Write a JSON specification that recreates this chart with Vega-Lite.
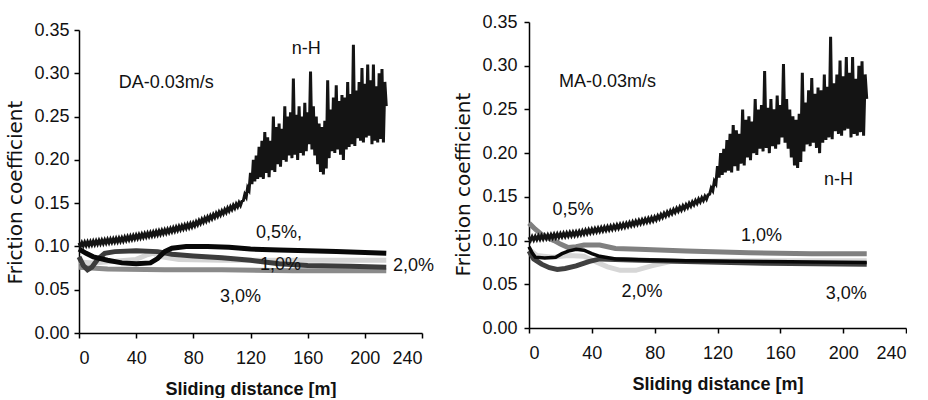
{
  "$schema": "https://vega.github.io/schema/vega-lite/v6.json",
  "padding": {"left": 5, "top": 13, "right": 0, "bottom": 0},
  "background": "white",
  "config": {
    "view": {"stroke": null},
    "font": "Liberation Sans",
    "axis": {"grid": false, "domainColor": "#000", "tickColor": "#000", "labelColor": "#111", "titleColor": "#111", "labelFontSize": 18, "titleFontSize": 18, "labelFont": "Liberation Sans", "tickSize": 5, "domainWidth": 1.5, "tickWidth": 1.5},
    "text": {"font": "Liberation Sans", "fontSize": 18, "color": "#111"}
  },
  "datasets": {
    "nh": [
      {"d":0,"f":0.1040},{"d":1,"f":0.1002},{"d":2,"f":0.1044},{"d":3,"f":0.1006},{"d":4,"f":0.1048},{"d":5,"f":0.1010},{"d":6,"f":0.1052},{"d":7,"f":0.1014},{"d":8,"f":0.1056},{"d":9,"f":0.1018},
      {"d":10,"f":0.1060},{"d":11,"f":0.1022},{"d":12,"f":0.1064},{"d":13,"f":0.1026},{"d":14,"f":0.1068},{"d":15,"f":0.1030},{"d":16,"f":0.1072},{"d":17,"f":0.1034},{"d":18,"f":0.1076},{"d":19,"f":0.1038},
      {"d":20,"f":0.1080},{"d":21,"f":0.1042},{"d":22,"f":0.1084},{"d":23,"f":0.1046},{"d":24,"f":0.1088},{"d":25,"f":0.1050},{"d":26,"f":0.1092},{"d":27,"f":0.1054},{"d":28,"f":0.1096},{"d":29,"f":0.1058},
      {"d":30,"f":0.1100},{"d":31,"f":0.1063},{"d":32,"f":0.1106},{"d":33,"f":0.1069},{"d":34,"f":0.1112},{"d":35,"f":0.1075},{"d":36,"f":0.1118},{"d":37,"f":0.1081},{"d":38,"f":0.1124},{"d":39,"f":0.1087},
      {"d":40,"f":0.1130},{"d":41,"f":0.1093},{"d":42,"f":0.1136},{"d":43,"f":0.1099},{"d":44,"f":0.1142},{"d":45,"f":0.1105},{"d":46,"f":0.1148},{"d":47,"f":0.1111},{"d":48,"f":0.1154},{"d":49,"f":0.1117},
      {"d":50,"f":0.1160},{"d":51,"f":0.1123},{"d":52,"f":0.1166},{"d":53,"f":0.1129},{"d":54,"f":0.1172},{"d":55,"f":0.1135},{"d":56,"f":0.1178},{"d":57,"f":0.1141},{"d":58,"f":0.1184},{"d":59,"f":0.1147},
      {"d":60,"f":0.1190},{"d":61,"f":0.1154},{"d":62,"f":0.1198},{"d":63,"f":0.1162},{"d":64,"f":0.1206},{"d":65,"f":0.1170},{"d":66,"f":0.1214},{"d":67,"f":0.1178},{"d":68,"f":0.1222},{"d":69,"f":0.1186},
      {"d":70,"f":0.1230},{"d":71,"f":0.1194},{"d":72,"f":0.1238},{"d":73,"f":0.1202},{"d":74,"f":0.1246},{"d":75,"f":0.1210},{"d":76,"f":0.1254},{"d":77,"f":0.1218},{"d":78,"f":0.1262},{"d":79,"f":0.1226},
      {"d":80,"f":0.1270},{"d":81,"f":0.1237},{"d":82,"f":0.1284},{"d":83,"f":0.1251},{"d":84,"f":0.1298},{"d":85,"f":0.1265},{"d":86,"f":0.1312},{"d":87,"f":0.1279},{"d":88,"f":0.1326},{"d":89,"f":0.1293},
      {"d":90,"f":0.1340},{"d":91,"f":0.1307},{"d":92,"f":0.1354},{"d":93,"f":0.1321},{"d":94,"f":0.1368},{"d":95,"f":0.1335},{"d":96,"f":0.1382},{"d":97,"f":0.1349},{"d":98,"f":0.1396},{"d":99,"f":0.1363},
      {"d":100,"f":0.1410},{"d":101,"f":0.1378},{"d":102,"f":0.1426},{"d":103,"f":0.1394},{"d":104,"f":0.1442},{"d":105,"f":0.1410},{"d":106,"f":0.1458},{"d":107,"f":0.1426},{"d":108,"f":0.1474},{"d":109,"f":0.1442},
      {"d":110,"f":0.1490},{"d":111,"f":0.1458},{"d":112,"f":0.1506},{"d":113,"f":0.1474},{"d":114,"f":0.1522},
      {"d":115,"f":0.153},{"d":116,"f":0.160},{"d":117,"f":0.157},{"d":118,"f":0.168},{"d":119,"f":0.165},{"d":120,"f":0.185},{"d":121,"f":0.172},{"d":122,"f":0.200},{"d":123,"f":0.175},{"d":124,"f":0.205},
      {"d":125,"f":0.178},{"d":126,"f":0.215},{"d":127,"f":0.180},{"d":128,"f":0.222},{"d":129,"f":0.178},{"d":130,"f":0.232},{"d":131,"f":0.185},{"d":132,"f":0.226},{"d":133,"f":0.180},{"d":134,"f":0.222},
      {"d":135,"f":0.188},{"d":136,"f":0.250},{"d":137,"f":0.186},{"d":138,"f":0.238},{"d":139,"f":0.195},{"d":140,"f":0.242},{"d":141,"f":0.192},{"d":142,"f":0.236},{"d":143,"f":0.200},{"d":144,"f":0.262},
      {"d":145,"f":0.198},{"d":146,"f":0.250},{"d":147,"f":0.205},{"d":148,"f":0.255},{"d":149,"f":0.202},{"d":150,"f":0.294},{"d":151,"f":0.206},{"d":152,"f":0.252},{"d":153,"f":0.200},{"d":154,"f":0.262},
      {"d":155,"f":0.208},{"d":156,"f":0.250},{"d":157,"f":0.205},{"d":158,"f":0.266},{"d":159,"f":0.210},{"d":160,"f":0.255},{"d":161,"f":0.218},{"d":162,"f":0.302},{"d":163,"f":0.212},{"d":164,"f":0.262},
      {"d":165,"f":0.205},{"d":166,"f":0.250},{"d":167,"f":0.195},{"d":168,"f":0.242},{"d":169,"f":0.186},{"d":170,"f":0.238},{"d":171,"f":0.183},{"d":172,"f":0.245},{"d":173,"f":0.190},{"d":174,"f":0.292},
      {"d":175,"f":0.202},{"d":176,"f":0.258},{"d":177,"f":0.210},{"d":178,"f":0.272},{"d":179,"f":0.208},{"d":180,"f":0.286},{"d":181,"f":0.212},{"d":182,"f":0.268},{"d":183,"f":0.206},{"d":184,"f":0.275},
      {"d":185,"f":0.200},{"d":186,"f":0.272},{"d":187,"f":0.212},{"d":188,"f":0.290},{"d":189,"f":0.215},{"d":190,"f":0.276},{"d":191,"f":0.218},{"d":192,"f":0.333},{"d":193,"f":0.216},{"d":194,"f":0.280},
      {"d":195,"f":0.225},{"d":196,"f":0.290},{"d":197,"f":0.222},{"d":198,"f":0.306},{"d":199,"f":0.220},{"d":200,"f":0.288},{"d":201,"f":0.226},{"d":202,"f":0.310},{"d":203,"f":0.228},{"d":204,"f":0.292},
      {"d":205,"f":0.218},{"d":206,"f":0.310},{"d":207,"f":0.222},{"d":208,"f":0.285},{"d":209,"f":0.220},{"d":210,"f":0.300},{"d":211,"f":0.224},{"d":212,"f":0.305},{"d":213,"f":0.220},{"d":214,"f":0.290},
      {"d":215,"f":0.262}
    ],
    "da": [
      {"s":"3,0%","d":0,"f":0.076},{"s":"3,0%","d":20,"f":0.074},{"s":"3,0%","d":60,"f":0.073},{"s":"3,0%","d":100,"f":0.073},{"s":"3,0%","d":150,"f":0.072},{"s":"3,0%","d":215,"f":0.072},
      {"s":"2,0%","d":0,"f":0.082},{"s":"2,0%","d":10,"f":0.081},{"s":"2,0%","d":25,"f":0.083},{"s":"2,0%","d":40,"f":0.085},{"s":"2,0%","d":47,"f":0.090},{"s":"2,0%","d":52,"f":0.092},{"s":"2,0%","d":58,"f":0.088},{"s":"2,0%","d":70,"f":0.085},{"s":"2,0%","d":100,"f":0.084},{"s":"2,0%","d":150,"f":0.084},{"s":"2,0%","d":215,"f":0.084},
      {"s":"1,0%","d":0,"f":0.088},{"s":"1,0%","d":3,"f":0.078},{"s":"1,0%","d":6,"f":0.073},{"s":"1,0%","d":9,"f":0.076},{"s":"1,0%","d":13,"f":0.085},{"s":"1,0%","d":18,"f":0.092},{"s":"1,0%","d":25,"f":0.094},{"s":"1,0%","d":40,"f":0.095},{"s":"1,0%","d":55,"f":0.094},{"s":"1,0%","d":65,"f":0.091},{"s":"1,0%","d":80,"f":0.089},{"s":"1,0%","d":100,"f":0.087},{"s":"1,0%","d":120,"f":0.084},{"s":"1,0%","d":140,"f":0.080},{"s":"1,0%","d":160,"f":0.078},{"s":"1,0%","d":190,"f":0.077},{"s":"1,0%","d":215,"f":0.076},
      {"s":"0,5%","d":0,"f":0.097},{"s":"0,5%","d":5,"f":0.092},{"s":"0,5%","d":10,"f":0.088},{"s":"0,5%","d":20,"f":0.084},{"s":"0,5%","d":30,"f":0.081},{"s":"0,5%","d":40,"f":0.080},{"s":"0,5%","d":50,"f":0.081},{"s":"0,5%","d":55,"f":0.086},{"s":"0,5%","d":60,"f":0.094},{"s":"0,5%","d":65,"f":0.098},{"s":"0,5%","d":75,"f":0.100},{"s":"0,5%","d":90,"f":0.100},{"s":"0,5%","d":105,"f":0.099},{"s":"0,5%","d":120,"f":0.097},{"s":"0,5%","d":140,"f":0.096},{"s":"0,5%","d":160,"f":0.095},{"s":"0,5%","d":180,"f":0.094},{"s":"0,5%","d":200,"f":0.093},{"s":"0,5%","d":215,"f":0.092}
    ],
    "ma": [
      {"s":"2,0%","d":0,"f":0.090},{"s":"2,0%","d":5,"f":0.083},{"s":"2,0%","d":15,"f":0.081},{"s":"2,0%","d":25,"f":0.083},{"s":"2,0%","d":35,"f":0.082},{"s":"2,0%","d":42,"f":0.076},{"s":"2,0%","d":50,"f":0.070},{"s":"2,0%","d":58,"f":0.066},{"s":"2,0%","d":68,"f":0.066},{"s":"2,0%","d":78,"f":0.071},{"s":"2,0%","d":90,"f":0.076},{"s":"2,0%","d":130,"f":0.077},{"s":"2,0%","d":215,"f":0.077},
      {"s":"1,0%","d":0,"f":0.120},{"s":"1,0%","d":4,"f":0.113},{"s":"1,0%","d":8,"f":0.107},{"s":"1,0%","d":12,"f":0.103},{"s":"1,0%","d":16,"f":0.100},{"s":"1,0%","d":20,"f":0.096},{"s":"1,0%","d":25,"f":0.092},{"s":"1,0%","d":30,"f":0.093},{"s":"1,0%","d":35,"f":0.095},{"s":"1,0%","d":45,"f":0.095},{"s":"1,0%","d":55,"f":0.091},{"s":"1,0%","d":70,"f":0.090},{"s":"1,0%","d":100,"f":0.088},{"s":"1,0%","d":140,"f":0.086},{"s":"1,0%","d":180,"f":0.085},{"s":"1,0%","d":215,"f":0.085},
      {"s":"3,0%","d":0,"f":0.088},{"s":"3,0%","d":3,"f":0.079},{"s":"3,0%","d":8,"f":0.073},{"s":"3,0%","d":13,"f":0.069},{"s":"3,0%","d":18,"f":0.067},{"s":"3,0%","d":23,"f":0.068},{"s":"3,0%","d":30,"f":0.071},{"s":"3,0%","d":38,"f":0.076},{"s":"3,0%","d":45,"f":0.079},{"s":"3,0%","d":60,"f":0.078},{"s":"3,0%","d":100,"f":0.076},{"s":"3,0%","d":150,"f":0.074},{"s":"3,0%","d":215,"f":0.073},
      {"s":"0,5%","d":0,"f":0.093},{"s":"0,5%","d":2,"f":0.086},{"s":"0,5%","d":4,"f":0.081},{"s":"0,5%","d":10,"f":0.080},{"s":"0,5%","d":17,"f":0.081},{"s":"0,5%","d":21,"f":0.085},{"s":"0,5%","d":25,"f":0.088},{"s":"0,5%","d":30,"f":0.090},{"s":"0,5%","d":35,"f":0.089},{"s":"0,5%","d":40,"f":0.085},{"s":"0,5%","d":45,"f":0.082},{"s":"0,5%","d":55,"f":0.079},{"s":"0,5%","d":70,"f":0.078},{"s":"0,5%","d":100,"f":0.077},{"s":"0,5%","d":150,"f":0.076},{"s":"0,5%","d":215,"f":0.075}
    ],
    "labda": [
      {"t":"n-H","d":159,"f":0.328},{"t":"DA-0.03m/s","d":61,"f":0.289},{"t":"0,5%,","d":140,"f":0.116},{"t":"1,0%","d":141,"f":0.078},{"t":"2,0%","d":234,"f":0.077},{"t":"3,0%","d":113,"f":0.042}
    ],
    "labma": [
      {"t":"n-H","d":197,"f":0.169},{"t":"MA-0.03m/s","d":50,"f":0.281},{"t":"0,5%","d":28,"f":0.135},{"t":"1,0%","d":148,"f":0.105},{"t":"2,0%","d":72,"f":0.041},{"t":"3,0%","d":202,"f":0.039}
    ]
  },
  "spacing": 19,
  "hconcat": [
    {
      "spacing": -2,
      "vconcat": [
        {"width": 343, "height": 1, "data": {"values": [{"d": 0}]}, "mark": {"type": "point", "size": 0, "opacity": 0}, "encoding": {}},
        {
          "width": 343, "height": 303,
          "encoding": {
            "x": {"field": "d", "type": "quantitative", "scale": {"domain": [0, 240]}, "axis": {"values": [0,40,80,120,160,200,240], "title": "Sliding distance [m]", "titleFontWeight": "bold", "labelPadding": 11, "titlePadding": 13}},
            "y": {"field": "f", "type": "quantitative", "scale": {"domain": [0, 0.35]}, "axis": {"values": [0,0.05,0.1,0.15,0.2,0.25,0.3,0.35], "format": ".2f", "title": "Friction coefficient", "titleFont": "DejaVu Sans", "titleFontSize": 20, "titleFontWeight": "normal", "titlePadding": 8, "titleY": 162, "labelPadding": 5}}
          },
          "layer": [
            {"data": {"name": "da"}, "transform": [{"filter": "datum.s == '3,0%'"}], "mark": {"type": "line", "color": "#8a8a8a", "strokeWidth": 5}},
            {"data": {"name": "da"}, "transform": [{"filter": "datum.s == '2,0%'"}], "mark": {"type": "line", "color": "#d4d4d4", "strokeWidth": 5}},
            {"data": {"name": "da"}, "transform": [{"filter": "datum.s == '1,0%'"}], "mark": {"type": "line", "color": "#3c3c3c", "strokeWidth": 5}},
            {"data": {"name": "da"}, "transform": [{"filter": "datum.s == '0,5%'"}], "mark": {"type": "line", "color": "#080808", "strokeWidth": 5}},
            {"data": {"name": "nh"}, "mark": {"type": "line", "color": "#141414", "strokeWidth": 3}},
            {"data": {"name": "labda"}, "mark": {"type": "text", "align": "center", "baseline": "middle"}, "encoding": {"text": {"field": "t"}}}
          ]
        }
      ]
    },
    {
      "width": 377, "height": 306,
      "encoding": {
        "x": {"field": "d", "type": "quantitative", "scale": {"domain": [0, 240]}, "axis": {"values": [0,40,80,120,160,200,240], "title": "Sliding distance [m]", "titleFontWeight": "bold", "labelPadding": 11, "titlePadding": 13}},
        "y": {"field": "f", "type": "quantitative", "scale": {"domain": [0, 0.35]}, "axis": {"values": [0,0.05,0.1,0.15,0.2,0.25,0.3,0.35], "format": ".2f", "title": "Friction coefficient", "titleFont": "DejaVu Sans", "titleFontSize": 20, "titleFontWeight": "normal", "titlePadding": 8, "titleY": 162, "labelPadding": 7}}
      },
      "layer": [
        {"data": {"name": "ma"}, "transform": [{"filter": "datum.s == '2,0%'"}], "mark": {"type": "line", "color": "#d6d6d6", "strokeWidth": 5}},
        {"data": {"name": "ma"}, "transform": [{"filter": "datum.s == '1,0%'"}], "mark": {"type": "line", "color": "#808080", "strokeWidth": 5}},
        {"data": {"name": "ma"}, "transform": [{"filter": "datum.s == '3,0%'"}], "mark": {"type": "line", "color": "#404040", "strokeWidth": 5}},
        {"data": {"name": "ma"}, "transform": [{"filter": "datum.s == '0,5%'"}], "mark": {"type": "line", "color": "#080808", "strokeWidth": 3.5}},
        {"data": {"name": "nh"}, "mark": {"type": "line", "color": "#141414", "strokeWidth": 3}},
        {"data": {"name": "labma"}, "mark": {"type": "text", "align": "center", "baseline": "middle"}, "encoding": {"text": {"field": "t"}}}
      ]
    }
  ]
}
